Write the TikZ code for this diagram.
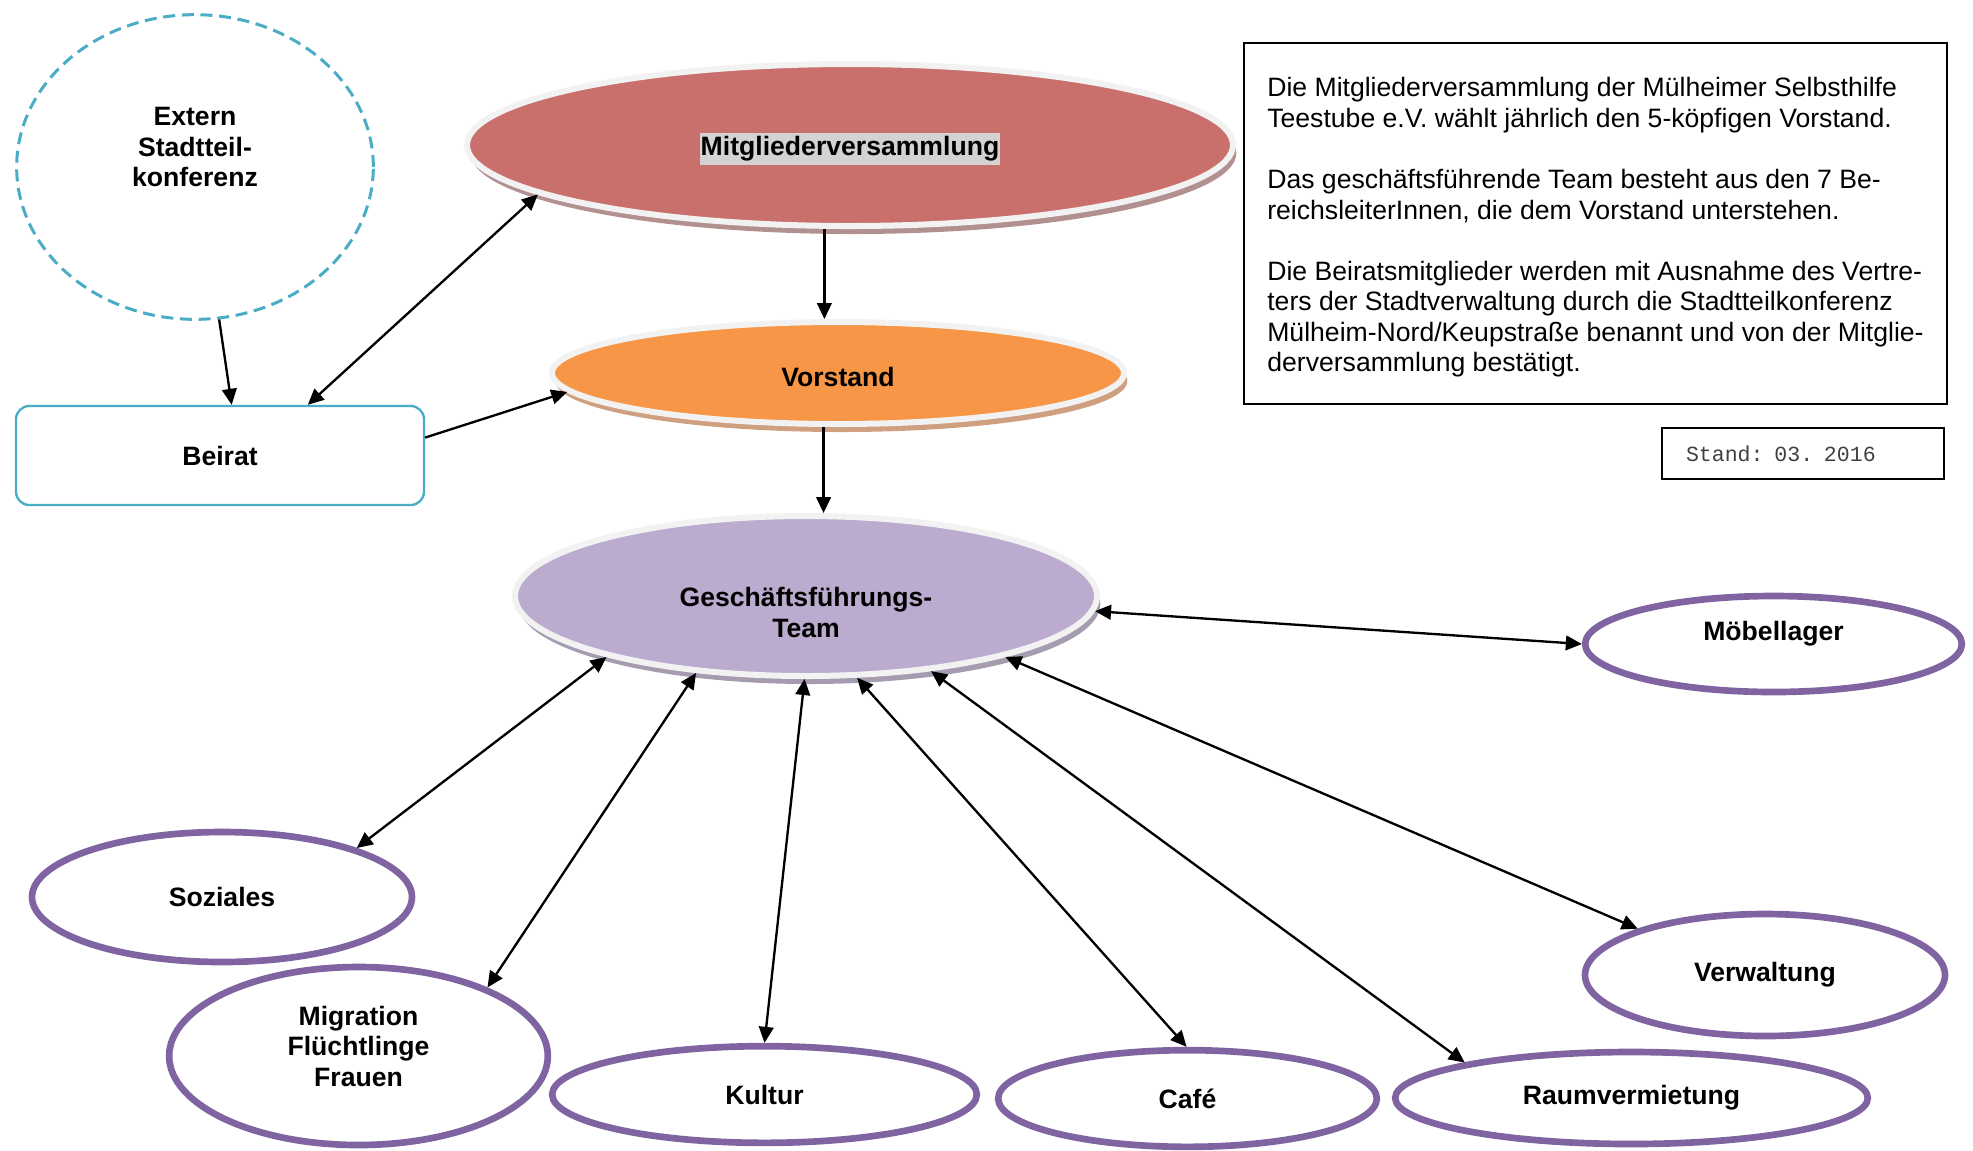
\documentclass[tikz,border=0pt]{standalone}
\usepackage{fontspec}
\setmainfont{Liberation Sans}
\setmonofont{Liberation Mono}
\usepackage{tikz}
\usetikzlibrary{shapes.geometric, arrows.meta, shadows, positioning}

\definecolor{mvfill}{HTML}{C9706D}
\definecolor{mvshade}{HTML}{B29090}
\definecolor{vsfill}{HTML}{F79646}
\definecolor{vsshade}{HTML}{CFA080}
\definecolor{gffill}{HTML}{BBABCE}
\definecolor{gfshade}{HTML}{A59CAF}
\definecolor{ringgray}{HTML}{F2F2F2}
\definecolor{bubble}{HTML}{8064A2}
\definecolor{teal}{HTML}{4BACC6}
\definecolor{hlgray}{HTML}{D3D3D3}
\definecolor{standgray}{HTML}{404040}

\newcommand{\lblfont}{\fontsize{11.35}{13.05}\selectfont}
\newcommand{\hlbox}[1]{{\setlength{\fboxsep}{0.5pt}\colorbox{hlgray}{\strut #1}}}
\newcommand{\lowertext}[1]{\raisebox{-0.06cm}[\height][\depth]{#1}}

\begin{document}
\begin{tikzpicture}[x=0.015cm, y=-0.015cm,
  organ/.style={ellipse, draw=ringgray, line width=0.09cm, inner sep=0pt, align=center,
    font=\lblfont\bfseries, fill=#1fill,
    drop shadow={shadow xshift=0.05cm, shadow yshift=-0.12cm, fill=#1shade, opacity=1}},
  bereich/.style={ellipse, draw=bubble, line width=0.1cm, fill=white, inner sep=0pt,
    align=center, font=\lblfont\bfseries},
  link/.style={line width=0.035cm, {Triangle[length=0.24cm,width=0.22cm]}-{Triangle[length=0.24cm,width=0.22cm]}},
  arr/.style={line width=0.035cm, -{Triangle[length=0.24cm,width=0.22cm]}},
  infobox/.style={draw, line width=0.025cm, inner sep=0pt, align=left, font=\lblfont}
]
  \useasboundingbox (0,0) rectangle (1973,1150);

  % Extern and Beirat
  \node[ellipse, draw=teal, dash pattern=on 0.18cm off 0.1cm, line width=0.045cm,
    minimum width=5.35cm, minimum height=4.57cm, inner sep=0pt, align=center,
    font=\lblfont\bfseries] (extern) at (195,167) {Extern\\Stadtteil-\\konferenz\\\strut};
  \node[draw=teal, line width=0.035cm, rounded corners=0.2cm, minimum width=6.12cm,
    minimum height=1.485cm, font=\lblfont\bfseries] (beirat) at (220,455.5) {Beirat};

  % Organe
  \node[organ=mv, minimum width=11.49cm, minimum height=2.43cm] (mv) at (850,145) {\lowertext{\hlbox{Mitgliederversammlung}}};
  \node[organ=vs, minimum width=8.58cm, minimum height=1.53cm] (vorstand) at (838,373) {\lowertext{Vorstand}};
  \node[organ=gf, minimum width=8.73cm, minimum height=2.4cm] (gf) at (806,596) {\strut\\Geschäftsführungs-\\Team};

  % Bereiche
  \node[bereich, minimum width=5.7cm, minimum height=1.95cm] (soziales) at (222,897) {Soziales};
  \node[bereich, minimum width=5.68cm, minimum height=2.67cm] (migration) at (358.5,1056) {Migration\\Flüchtlinge\\Frauen\\[-0.3cm]\strut};
  \node[bereich, minimum width=6.37cm, minimum height=1.45cm] (kultur) at (764.5,1094.5) {Kultur};
  \node[bereich, minimum width=5.68cm, minimum height=1.45cm] (cafe) at (1187.5,1098.5) {Café};
  \node[bereich, minimum width=7.09cm, minimum height=1.38cm] (raum) at (1631.5,1098) {Raumvermietung};
  \node[bereich, minimum width=5.4cm, minimum height=1.83cm] (verwaltung) at (1765,975) {Verwaltung};
  \node[bereich, minimum width=5.65cm, minimum height=1.44cm] (moebel) at (1773.5,644) {Möbellager\\[-0.21cm]\strut};

  % Erlaeuterung
  \node[infobox, minimum width=10.545cm, minimum height=5.415cm] (info) at (1595.5,223.5) {%
    \mbox{}\\[-0.05cm]
    Die Mitgliederversammlung der Mülheimer Selbsthilfe\\
    Teestube e.V. wählt jährlich den 5-köpfigen Vorstand.\\[\baselineskip]
    Das geschäftsführende Team besteht aus den 7 Be-\\
    reichsleiterInnen, die dem Vorstand unterstehen.\\[\baselineskip]
    Die Beiratsmitglieder werden mit Ausnahme des Vertre-\\
    ters der Stadtverwaltung durch die Stadtteilkonferenz\\
    Mülheim-Nord/Keupstraße benannt und von der Mitglie-\\
    derversammlung bestätigt.};
  \node[draw, line width=0.025cm, minimum width=4.23cm, minimum height=0.765cm, inner sep=0pt,
    text width=3.51cm, align=left, text=standgray,
    font=\ttfamily\fontsize{9.2}{11}\selectfont] (stand) at (1803,453.5) {Stand: 03. 2016};

  % Verbindungen
  \draw[arr] (extern.279) -- (beirat.77);
  \draw[link] (beirat.30) -- (mv.189);
  \draw[arr] (beirat.5) -- (vorstand.184);
  \draw[arr] (mv.253) -- (mv.253 |- vorstand.north);
  \draw[arr] (vorstand.255) -- (vorstand.255 |- gf.north);

  \draw[link] (gf.197) -- (soziales.20);
  \draw[link] (gf.215) -- (migration.28);
  \draw[link] (gf.269) -- (kultur.90);
  \draw[link] (gf.302) -- (cafe.91);
  \draw[link] (gf.329) -- (raum.168);
  \draw[link] (gf.343) -- (verwaltung.160);
  \draw[link] (gf.357) -- (moebel.180);

\end{tikzpicture}
\end{document}
